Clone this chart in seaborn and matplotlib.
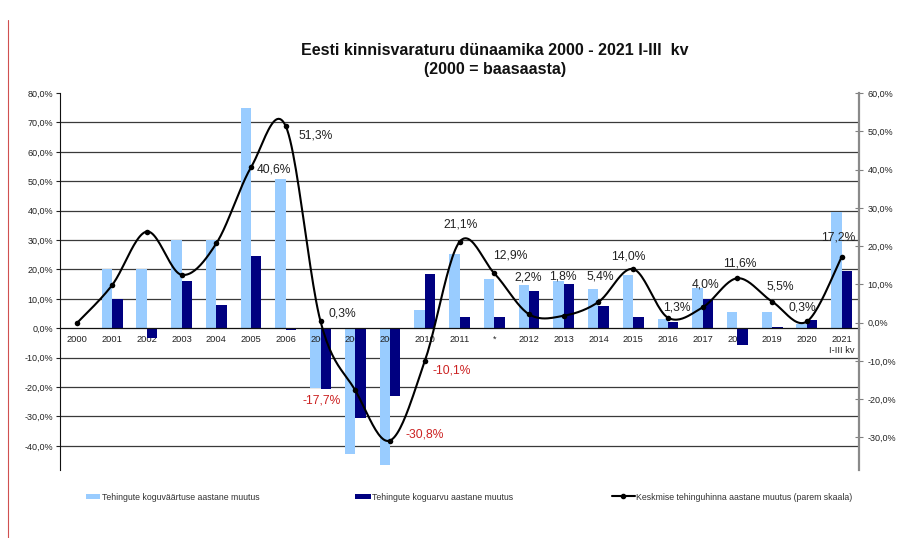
import numpy as np
import pandas as pd
import matplotlib
matplotlib.use("Agg")
import matplotlib.pyplot as plt
import seaborn as sns
from matplotlib.lines import Line2D
from matplotlib.patches import Patch

# ---------------- data ----------------
categories = ["2000", "2001", "2002", "2003", "2004", "2005", "2006", "2007", "2008",
              "2009", "2010", "2011", "*", "2012", "2013", "2014", "2015", "2016",
              "2017", "2018", "2019", "2020", "2021\nI-III kv"]
value_change = [0.0, 20.0, 20.0, 30.0, 30.0, 75.0, 50.8, -20.4, -42.8, -46.5, 6.3, 25.4,
                16.8, 14.8, 16.0, 13.4, 18.0, 3.1, 13.7, 5.5, 5.5, 1.5, 39.6]
count_change = [0.0, 10.0, -3.3, 16.0, 8.0, 24.7, -0.5, -20.7, -30.6, -23.2, 18.5, 3.7,
                3.7, 12.5, 15.0, 7.7, 3.7, 2.0, 10.0, -5.6, 0.5, 2.8, 19.4]
price_change = [0.0, 9.8, 23.8, 12.5, 20.7, 40.6, 51.3, 0.3, -17.7, -30.8, -10.1, 21.1,
                12.9, 2.2, 1.8, 5.4, 14.0, 1.3, 4.0, 11.6, 5.5, 0.3, 17.2]
labelled = [False] * 5 + [True] * 18
left_ticks = [-40, -30, -20, -10, 0, 10, 20, 30, 40, 50, 60, 70, 80]
right_ticks = [-30, -20, -10, 0, 10, 20, 30, 40, 50, 60]
series_names = ["Tehingute koguväärtuse aastane muutus",
                "Tehingute koguarvu aastane muutus",
                "Keskmise tehinguhinna aastane muutus (parem skaala)"]
title_lines = ["Eesti kinnisvaraturu dünaamika 2000 - 2021 I-III  kv", "(2000 = baasaasta)"]

# label offsets in pixels (dx, dy downward) – styling only
label_offsets = [None] * 5 + [(23, 2), (30, 9), (22, -8), (-34, 10), (35, -6), (27, 9),
                              (1, -17), (16, -18), (-1, -37), (-1, -39), (2, -25), (-5, -13),
                              (9, -10), (3, -23), (2, -15), (8, -15), (-5, -14), (-3, -19)]

LIGHT = "#99ccff"
NAVY = "#000080"

sns.set_style("white")
plt.rcParams["font.family"] = ["Liberation Sans", "DejaVu Sans"]

def pct(v):
    return f"{v:.1f}%".replace(".", ",")

pos = np.arange(len(categories))
df = pd.DataFrame({
    "pos": np.concatenate([pos, pos]),
    "value": value_change + count_change,
    "series": [series_names[0]] * len(pos) + [series_names[1]] * len(pos),
})

W, H = 898, 538
fig = plt.figure(figsize=(W / 100, H / 100), dpi=100)
ax = fig.add_axes([60 / W, 1 - 470 / H, 799 / W, 377 / H])

sns.barplot(data=df, x="pos", y="value", hue="series", native_scale=True,
            palette=[LIGHT, NAVY], hue_order=series_names[:2], width=0.6,
            saturation=1, errorbar=None, legend=False, ax=ax, linewidth=0)
# light bars sit below the category labels, dark bars above (as in the original)
for bar in ax.containers[0]:
    bar.set_zorder(0.3)
for bar in ax.containers[1]:
    bar.set_zorder(1.0)

ax.set_xlim(-0.5, len(categories) - 0.5)
ax.set_ylim(-48.2, 80)
ax.set_axisbelow(True)
for t in left_ticks:
    if t not in (0, left_ticks[-1]):
        ax.axhline(t, color="#3a3a3a", lw=0.9, zorder=0.1)
ax.set_yticks(left_ticks)
ax.set_yticklabels([pct(t) for t in left_ticks])
ax.tick_params(axis="y", length=3, width=0.8, pad=2, labelsize=6.5, colors="#222222")
ax.set_xticks(pos)
ax.set_xticklabels(categories, linespacing=0.95)
ax.set_xticks(np.arange(-0.5, len(categories), 1.0), minor=True)
ax.tick_params(axis="x", which="major", length=0, pad=5, labelsize=6.7, labelcolor="#222222")
ax.tick_params(axis="x", which="minor", length=3, width=0.8, direction="out", color="#333333")
ax.spines["top"].set_visible(False)
ax.spines["right"].set_visible(False)
ax.spines["left"].set_color("#111111")
ax.spines["left"].set_linewidth(0.8)
ax.spines["bottom"].set_position(("data", 0))
ax.spines["bottom"].set_color("#111111")
ax.spines["bottom"].set_linewidth(0.9)
ax.set_xlabel("")
ax.set_ylabel("")

# ---------------- right axis: smoothed line ----------------
ax2 = ax.twinx()
ax2.set_position(ax.get_position())

def catmull_rom(x, y, n=24):
    x = np.asarray(x, float); y = np.asarray(y, float)
    px = np.concatenate([[x[0]], x, [x[-1]]])
    py = np.concatenate([[y[0]], y, [y[-1]]])
    t = np.linspace(0, 1, n, endpoint=False)
    xs, ys = [], []
    for i in range(1, len(px) - 2):
        p0, p1, p2, p3 = (np.array([px[j], py[j]]) for j in (i - 1, i, i + 1, i + 2))
        c1 = p1 + (p2 - p0) / 6.0
        c2 = p2 - (p3 - p1) / 6.0
        b = ((1 - t) ** 3)[:, None] * p1 + (3 * (1 - t) ** 2 * t)[:, None] * c1 + \
            (3 * (1 - t) * t ** 2)[:, None] * c2 + (t ** 3)[:, None] * p2
        xs.append(b[:, 0]); ys.append(b[:, 1])
    xs.append([x[-1]]); ys.append([y[-1]])
    return np.concatenate(xs), np.concatenate(ys)

sx, sy = catmull_rom(pos, price_change)
sns.lineplot(x=sx, y=sy, sort=False, estimator=None, color="black", linewidth=1.5, ax=ax2)
sns.scatterplot(x=pos, y=price_change, color="black", s=16, linewidth=0, ax=ax2, zorder=4)

ax2.set_ylim(-38.5, 60)
ax2.set_xlim(-0.5, len(categories) - 0.5)
ax2.set_yticks(right_ticks)
ax2.set_yticklabels([pct(t) for t in right_ticks])
ax2.tick_params(axis="y", direction="inout", length=6, width=0.8, pad=3, labelsize=6.5,
                labelcolor="#222222", color="#808080")
for s in ("left", "top", "bottom"):
    ax2.spines[s].set_visible(False)
ax2.spines["right"].set_color("#8a8a8a")
ax2.spines["right"].set_linewidth(1.6)
ax2.set_xlabel("")
ax2.set_ylabel("")

for i, v in enumerate(price_change):
    if not labelled[i]:
        continue
    dx, dy = label_offsets[i]
    ax2.annotate(pct(v), xy=(pos[i], v), xytext=(dx, -dy), textcoords="offset pixels",
                 ha="center", va="center", fontsize=8.7,
                 color="#cc2222" if v < 0 else "#222222", zorder=5)

# ---------------- title ----------------
fig.text(495 / W, 1 - 55 / H, title_lines[0], ha="center", va="baseline",
         fontsize=11.5, fontweight="bold", color="#111111")
fig.text(495 / W, 1 - 74 / H, title_lines[1], ha="center", va="baseline",
         fontsize=11.5, fontweight="bold", color="#111111")

# ---------------- legend ----------------
leg_y = 1 - 497 / H
common = dict(loc="center left", frameon=False, fontsize=6.3, borderpad=0,
              borderaxespad=0, handletextpad=0.2, labelcolor="#333333")
fig.legend(handles=[Patch(facecolor=LIGHT, edgecolor="none")], labels=[series_names[0]],
           bbox_to_anchor=(86 / W, leg_y), handlelength=1.6, handleheight=0.6, **common)
fig.legend(handles=[Patch(facecolor=NAVY, edgecolor="none")], labels=[series_names[1]],
           bbox_to_anchor=(355 / W, leg_y), handlelength=1.8, handleheight=0.6, **common)
fig.legend(handles=[Line2D([], [], color="black", lw=1.5, marker="o", ms=3)],
           labels=[series_names[2]], bbox_to_anchor=(612 / W, leg_y),
           handlelength=2.6, **common)

# thin border line at the left edge of the screenshot
fig.add_artist(Line2D([8 / W, 8 / W], [0, 1 - 20 / H], transform=fig.transFigure,
                      color="#d05050", lw=0.8))

fig.savefig("out.png", dpi=100)
